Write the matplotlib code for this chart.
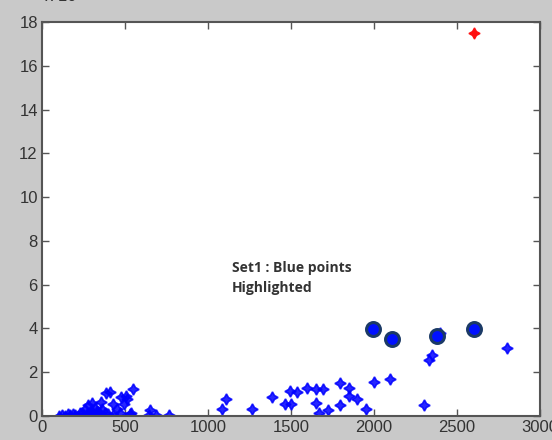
import matplotlib
matplotlib.use("Agg")
import matplotlib.pyplot as plt

# Blue data points (x, y in units of 10^?)
blue_x = [100, 120, 140, 155, 170, 185, 200, 215, 230, 250, 270, 290, 310, 330, 350, 375, 400, 430, 470, 530,
          240, 258, 275, 290, 301, 322, 330, 354, 360, 377, 386, 411, 428, 450, 475, 492, 504, 513, 538, 551,
          644, 650, 686, 767,
          1085, 1110, 1267, 1386, 1462, 1492, 1500, 1534, 1597, 1648, 1648, 1669, 1695, 1720, 1797, 1797, 1847,
          1852, 1898, 1949, 2000, 2097, 2301, 2330, 2352, 2398, 2801]
blue_y = [0.02, 0.05, 0.0, 0.08, 0.03, 0.1, 0.05, 0.02, 0.12, 0.06, 0.1, 0.03, 0.15, 0.05, 0.1, 0.02, 0.08, 0.05, 0.12, 0.1,
          0.12, 0.30, 0.49, 0.15, 0.61, 0.38, 0.25, 0.64, 0.3, 0.15, 1.04, 1.10, 0.53, 0.3, 0.88, 0.53, 0.91, 0.79, 0.15, 1.22,
          0.03, 0.27, 0.03, 0.03,
          0.34, 0.79, 0.34, 0.88, 0.56, 1.14, 0.53, 1.10, 1.29, 1.22, 0.61, 0.15, 1.25, 0.27, 1.49, 0.49, 0.91,
          1.29, 0.79, 0.34, 1.55, 1.68, 0.49, 2.56, 2.77, 3.80, 3.12]

# Highlighted points
hi_x = [1996, 2106, 2377, 2604]
hi_y = [3.96, 3.53, 3.65, 3.96]

# Outlier (red)
red_x = [2604]
red_y = [17.48]

x_ticks = [0, 500, 1000, 1500, 2000, 2500, 3000]
y_ticks = [0, 2, 4, 6, 8, 10, 12, 14, 16, 18]

plt.rcParams['font.family'] = ['Liberation Sans', 'DejaVu Sans']

fig = plt.figure(figsize=(5.52, 4.40), dpi=100, facecolor='#c9c9c9')
ax = fig.add_axes([42/552, 24/440, 498/552, 394/440])
ax.set_facecolor('white')

star = (4, 1, 0)
ax.plot(blue_x, blue_y, linestyle='none', marker=star, markersize=8,
        color='#0000ff', markeredgecolor='#0000ff', markeredgewidth=1.2, alpha=0.85)
ax.plot(hi_x, hi_y, linestyle='none', marker='o', markersize=10,
        markerfacecolor='#0010ff', markeredgecolor='#1b3a66', markeredgewidth=2.2)
ax.plot(red_x, red_y, linestyle='none', marker=star, markersize=8,
        color='#ff1010', markeredgecolor='#ff1010', markeredgewidth=1.0)

ax.set_xlim(0, 3000)
ax.set_ylim(0, 18)
ax.set_xticks(x_ticks)
ax.set_yticks(y_ticks)
ax.set_xticklabels([str(t) for t in x_ticks])
ax.set_yticklabels([str(t) for t in y_ticks])
ax.tick_params(direction='in', top=True, right=True, length=5, width=1,
               color='#555555', labelcolor='#333333', labelsize=12, pad=3)
for s in ax.spines.values():
    s.set_color('#555555')
    s.set_linewidth(1.5)

ax.text(1142, 6.3, "Set1 : Blue points\nHighlighted", fontsize=10, fontweight='bold',
        color='#333333', ha='left', va='center', linespacing=1.6,
        family=['Open Sans', 'DejaVu Sans'])

fig.text(45/552, 436/440, "x 10", fontsize=12, color='#333333', ha='left', va='bottom')

fig.savefig("out.png", dpi=100, facecolor=fig.get_facecolor())
